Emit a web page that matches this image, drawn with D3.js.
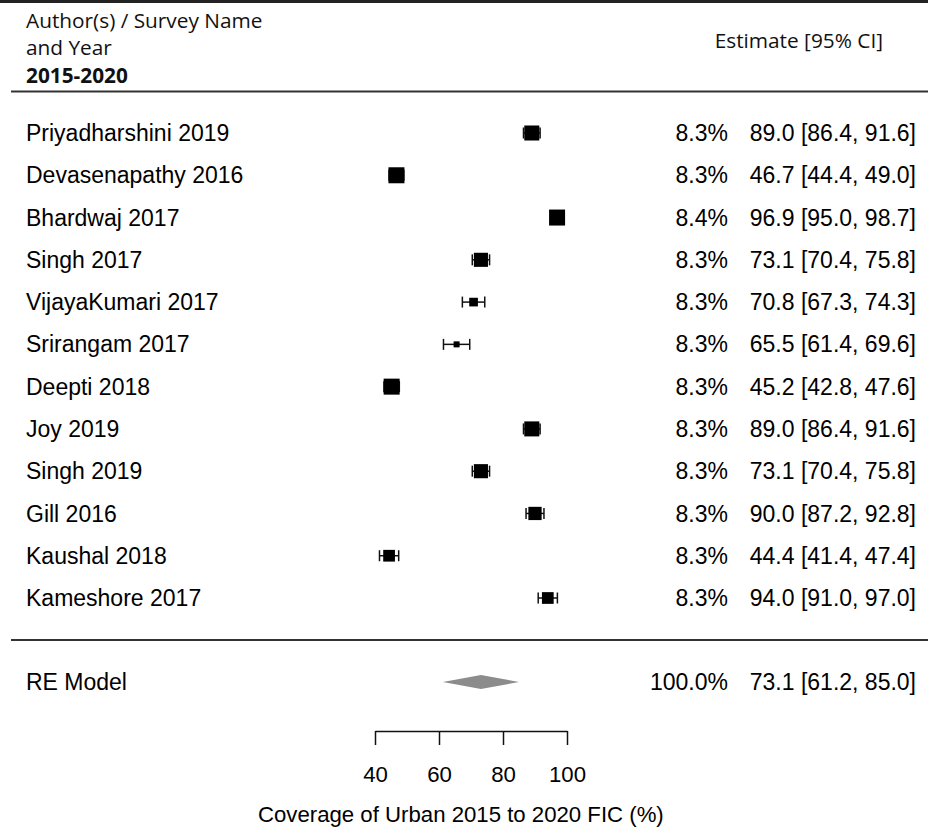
<!DOCTYPE html>
<html><head><meta charset="utf-8">
<script src="https://cdn.jsdelivr.net/npm/d3@7"></script>
<style>body{margin:0;background:#fff}svg{display:block}</style>
</head><body>
<script>
const studies = ["Priyadharshini 2019","Devasenapathy 2016","Bhardwaj 2017","Singh 2017","VijayaKumari 2017","Srirangam 2017","Deepti 2018","Joy 2019","Singh 2019","Gill 2016","Kaushal 2018","Kameshore 2017"];
const estimates = [89.0,46.7,96.9,73.1,70.8,65.5,45.2,89.0,73.1,90.0,44.4,94.0];
const lower = [86.4,44.4,95.0,70.4,67.3,61.4,42.8,86.4,70.4,87.2,41.4,91.0];
const upper = [91.6,49.0,98.7,75.8,74.3,69.6,47.6,91.6,75.8,92.8,47.4,97.0];
const weights = [8.3,8.3,8.4,8.3,8.3,8.3,8.3,8.3,8.3,8.3,8.3,8.3];
const pooled = {label:"RE Model", est:73.1, lo:61.2, hi:85.0, w:100.0};
const xTicks = [40,60,80,100];
const axisTitle = "Coverage of Urban 2015 to 2020 FIC (%)";

const W=928,H=828;
const svg=d3.select("body").append("svg").attr("width",W).attr("height",H);
const x=d3.scaleLinear().domain([40,100]).range([375,567]);
const y=d3.scaleLinear().domain([0,11]).range([133,598]);
const prec=studies.map((d,i)=>1/(upper[i]-lower[i]));
const size=d3.scaleLinear().domain([d3.min(prec),0.2]).range([6,16]).clamp(true);
const fmt=d3.format(".1f");
const bodyFont="'Liberation Sans', Arial, sans-serif";
const headFont="'Open Sans', 'Lato', sans-serif";
const FS=23, AFS=22.2;

// top border
svg.append("line").attr("x1",0).attr("x2",W).attr("y1",1.5).attr("y2",1.5).attr("stroke","#222").attr("stroke-width",3);
// header
const hd=svg.append("g").attr("font-family",headFont).attr("font-size",20.8).attr("fill","#111");
hd.append("text").attr("x",26).attr("y",28).text("Author(s) / Survey Name");
hd.append("text").attr("x",26).attr("y",55).text("and Year");
hd.append("text").attr("x",26).attr("y",83).attr("font-weight","bold").text("2015-2020");
hd.append("text").attr("x",883).attr("y",48).attr("text-anchor","end").text("Estimate [95% CI]");
svg.append("line").attr("x1",11).attr("x2",W).attr("y1",91.5).attr("y2",91.5).attr("stroke","#333").attr("stroke-width",2);
svg.append("line").attr("x1",11).attr("x2",W).attr("y1",640).attr("y2",640).attr("stroke","#333").attr("stroke-width",2);

const rows=svg.append("g").selectAll("g").data(studies).join("g").attr("transform",(d,i)=>`translate(0,${y(i)})`);
rows.append("text").attr("x",26).attr("dy","0.35em").attr("font-family",bodyFont).attr("font-size",FS).attr("fill","#000").text(d=>d);
rows.append("line").attr("x1",(d,i)=>x(lower[i])).attr("x2",(d,i)=>x(upper[i])).attr("stroke","#111").attr("stroke-width",1.5);
rows.append("line").attr("x1",(d,i)=>x(lower[i])).attr("x2",(d,i)=>x(lower[i])).attr("y1",-5.5).attr("y2",5.5).attr("stroke","#111").attr("stroke-width",1.5);
rows.append("line").attr("x1",(d,i)=>x(upper[i])).attr("x2",(d,i)=>x(upper[i])).attr("y1",-5.5).attr("y2",5.5).attr("stroke","#111").attr("stroke-width",1.5);
rows.append("rect").attr("x",(d,i)=>x(estimates[i])-size(prec[i])/2).attr("y",(d,i)=>-size(prec[i])/2)
  .attr("width",(d,i)=>size(prec[i])).attr("height",(d,i)=>size(prec[i])).attr("fill","#000");
rows.append("text").attr("x",728).attr("dy","0.35em").attr("text-anchor","end").attr("font-family",bodyFont).attr("font-size",FS).text((d,i)=>fmt(weights[i])+"%");
rows.append("text").attr("x",916).attr("dy","0.35em").attr("text-anchor","end").attr("font-family",bodyFont).attr("font-size",FS)
  .text((d,i)=>`${fmt(estimates[i])} [${fmt(lower[i])}, ${fmt(upper[i])}]`);

// pooled
const py=682;
const pg=svg.append("g").attr("transform",`translate(0,${py})`);
pg.append("text").attr("x",26).attr("dy","0.35em").attr("font-family",bodyFont).attr("font-size",FS).text(pooled.label);
pg.append("path").attr("d",`M${x(pooled.lo)},0L${x(pooled.est)},-7L${x(pooled.hi)},0L${x(pooled.est)},7Z`).attr("fill","#8c8c8c");
pg.append("text").attr("x",728).attr("dy","0.35em").attr("text-anchor","end").attr("font-family",bodyFont).attr("font-size",FS).text(fmt(pooled.w)+"%");
pg.append("text").attr("x",916).attr("dy","0.35em").attr("text-anchor","end").attr("font-family",bodyFont).attr("font-size",FS)
  .text(`${fmt(pooled.est)} [${fmt(pooled.lo)}, ${fmt(pooled.hi)}]`);

// axis
const ax=svg.append("g").attr("transform","translate(0,731)")
  .call(d3.axisBottom(x).tickValues(xTicks).tickSize(14).tickSizeOuter(0).tickPadding(21));
ax.select(".domain").attr("stroke","#111").attr("stroke-width",1.5);
ax.selectAll(".tick line").attr("stroke","#111").attr("stroke-width",1.5);
ax.selectAll(".tick text").attr("font-family",bodyFont).attr("font-size",AFS).attr("fill","#000");
svg.append("text").attr("x",258).attr("y",822).attr("text-anchor","start").attr("font-family",bodyFont).attr("font-size",AFS).text(axisTitle);
</script>
</body></html>
